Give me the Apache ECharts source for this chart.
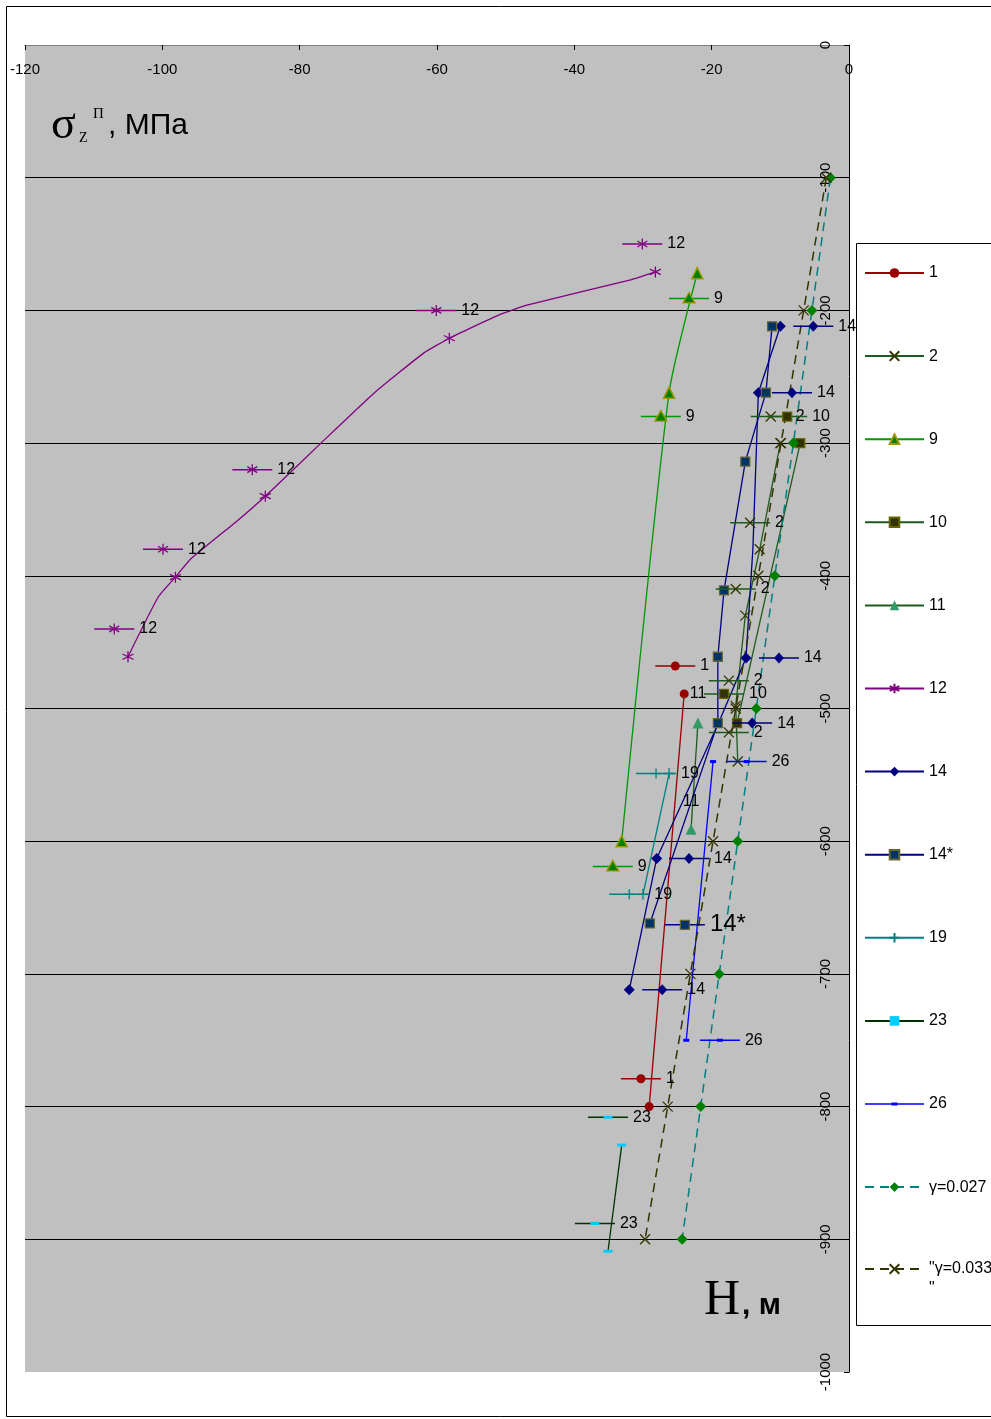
<!DOCTYPE html>
<html>
<head>
<meta charset="utf-8">
<script src="https://cdn.jsdelivr.net/npm/echarts@6/dist/echarts.min.js"></script>
<style>
html,body{margin:0;padding:0;background:#fff}
#chart{width:991px;height:1419px}
</style>
</head>
<body>
<div id="chart"></div>
<script>
// Axis ranges: stress σz (MPa) across, depth H (m) down
const stressAxis = { min: -120, max: 0, step: 20 };
const depthAxis = { min: -1000, max: 0, step: 100 };

// Measured profiles [stress, depth]
const s1 = [[-24.0, -489], [-29.1, -800]];
const s2 = [[-10.0, -300], [-13.0, -380], [-15.1, -430], [-16.5, -498], [-16.2, -540]];
const s9 = [[-22.1, -172], [-26.2, -262], [-33.1, -600]];
const s10 = [[-7.1, -300], [-16.3, -511]];
const s11 = [[-22.0, -511], [-23.0, -591]];
const s12 = [[-28.2, -171], [-31.8, -177], [-46.9, -196], [-50.8, -203], [-58.2, -221], [-61.9, -232],
             [-69.1, -262], [-76.9, -300], [-85.0, -340], [-89.2, -359], [-95.8, -387], [-98.1, -401],
             [-100.6, -416], [-105.0, -461]];
const s12Marked = [0, 4, 8, 11, 13];
const s14 = [[-10.0, -212], [-13.2, -262], [-14.0, -380], [-15.0, -462], [-19.0, -511], [-28.0, -613], [-32.0, -712]];
const s14Marked = [0, 1, 3, 5, 6];
const s14s = [[-11.2, -212], [-12.1, -262], [-15.1, -314], [-18.2, -411], [-19.1, -461], [-19.1, -511], [-29.0, -662]];
const s19 = [[-26.2, -549], [-30.0, -640]];
const s23 = [[-33.1, -829], [-35.1, -909]];
const s26 = [[-19.8, -540], [-23.7, -750]];
// Calculated lines for two unit weights
const g027 = [[-2.7, -100], [-5.4, -200], [-8.1, -300], [-10.8, -400], [-13.5, -500], [-16.2, -600], [-18.9, -700], [-21.6, -800], [-24.3, -900]];
const g033 = [[-3.3, -100], [-6.6, -200], [-9.9, -300], [-13.2, -400], [-16.5, -500], [-19.8, -600], [-23.1, -700], [-26.4, -800], [-29.7, -900]];

// Point tags: marker with a short stroke and the borehole number
const tag1 = [[-25.3, -468], [-30.3, -779]];
const tag2 = [[-11.4, -280], [-14.4, -360], [-16.5, -410], [-17.5, -479], [-17.5, -518]];
const tag9 = [[-23.3, -191], [-27.4, -280], [-34.4, -619]];
const tag10 = [[-9.0, -280], [-18.2, -489]];
const tag11 = [[-23.2, -489], [-24.2, -570]];
const tag12 = [[-30.1, -150], [-60.1, -200], [-86.9, -320], [-99.9, -380], [-107.0, -440]];
const tag14 = [[-5.2, -212], [-8.3, -262], [-10.2, -462], [-14.1, -511], [-23.3, -613], [-27.2, -712]];
const tag14s = [[-23.9, -663]];
const tag19 = [[-28.1, -549], [-32.0, -640]];
const tag23 = [[-35.1, -808], [-37.0, -888]];
const tag26 = [[-14.9, -540], [-18.8, -750]];

const SANS = 'Liberation Sans, Arial, sans-serif';
const SERIF = 'Liberation Serif, Times New Roman, serif';

const CROSS = 'path://M0,0L10,10M10,0L0,10';
const STAR = 'path://M5,0L5,10M0.7,2.5L9.3,7.5M0.7,7.5L9.3,2.5';
const PLUS = 'path://M5,0L5,10M0,5L10,5';
// legend sample for "26": thin stroke with a short dash in the middle
const LINE_DASH6 = 'path://M0,5.3h59v1.4h-59zM26.5,4.5h6v3h-6z';

function markShapes(kind, x, y, st) {
  const sw = { lineWidth: 1.3 };
  switch (kind) {
    case 'circle':
      return [{ type: 'circle', shape: { cx: x, cy: y, r: 4.5 }, style: { fill: st.fill } }];
    case 'cross':
      return [
        { type: 'line', shape: { x1: x - 5, y1: y - 5, x2: x + 5, y2: y + 5 }, style: Object.assign({ stroke: st.fill }, sw) },
        { type: 'line', shape: { x1: x + 5, y1: y - 5, x2: x - 5, y2: y + 5 }, style: Object.assign({ stroke: st.fill }, sw) }
      ];
    case 'tri':
      return [{ type: 'polygon', shape: { points: [[x, y - 6], [x + 6, y + 4.5], [x - 6, y + 4.5]] }, style: { fill: st.fill, stroke: st.edge || st.fill, lineWidth: 1.3 } }];
    case 'square':
      return [{ type: 'rect', shape: { x: x - 4.5, y: y - 4.5, width: 9, height: 9 }, style: { fill: st.fill, stroke: st.edge || st.fill, lineWidth: 1.3 } }];
    case 'star':
      return [
        { type: 'line', shape: { x1: x, y1: y - 5.5, x2: x, y2: y + 5.5 }, style: Object.assign({ stroke: st.fill }, sw) },
        { type: 'line', shape: { x1: x - 5, y1: y - 3, x2: x + 5, y2: y + 3 }, style: Object.assign({ stroke: st.fill }, sw) },
        { type: 'line', shape: { x1: x - 5, y1: y + 3, x2: x + 5, y2: y - 3 }, style: Object.assign({ stroke: st.fill }, sw) }
      ];
    case 'diamond':
      return [{ type: 'polygon', shape: { points: [[x, y - 5.5], [x + 5, y], [x, y + 5.5], [x - 5, y]] }, style: { fill: st.fill } }];
    case 'plus':
      return [
        { type: 'line', shape: { x1: x, y1: y - 5, x2: x, y2: y + 5 }, style: Object.assign({ stroke: st.fill }, sw) },
        { type: 'line', shape: { x1: x - 5, y1: y, x2: x + 5, y2: y }, style: Object.assign({ stroke: st.fill }, sw) }
      ];
    case 'dash':
      return [{ type: 'rect', shape: { x: x - st.w / 2, y: y - 1.5, width: st.w, height: 3 }, style: { fill: st.fill } }];
  }
  return [];
}

function tagSeries(points, text, st) {
  return {
    type: 'custom',
    silent: true,
    clip: false,
    z: 6,
    data: points,
    renderItem(params, api) {
      const p = api.coord([api.value(0), api.value(1)]);
      const ch = [];
      if (st.line) {
        ch.push({ type: 'line', shape: { x1: p[0] - 20, y1: p[1], x2: p[0] + 20, y2: p[1] }, style: { stroke: st.line, lineWidth: 1.5 } });
      }
      if (st.kind) ch.push(...markShapes(st.kind, p[0], p[1], st));
      ch.push({
        type: 'text',
        style: {
          text: text, x: p[0] + (st.line ? 25 : 0), y: p[1],
          verticalAlign: 'middle', align: 'left', fill: '#000',
          font: (st.size || 16) + 'px ' + SANS
        }
      });
      return { type: 'group', children: ch };
    }
  };
}

function lineSeries(name, pts, opt, marked) {
  const data = pts.map((p, i) => (marked && marked.indexOf(i) < 0) ? { value: p, symbol: 'none' } : { value: p });
  return Object.assign({
    name: name,
    type: 'line',
    data: data,
    z: 3,
    clip: false,
    animation: false,
    showAllSymbol: true
  }, opt);
}

const RED = '#990000', DKGREEN = '#1e5a1e', OLIVE = '#333300', GREEN = '#009900',
      PURPLE = '#800080', NAVY = '#000080', TEAL = '#008080', BLUE = '#0000ff';

const G033 = '"γ=0.033\n"';

const series = [
  lineSeries('1', s1, { symbol: 'circle', symbolSize: 9, itemStyle: { color: RED }, lineStyle: { color: RED, width: 1.3 } }),
  lineSeries('2', s2, { symbol: CROSS, symbolSize: 10, itemStyle: { color: OLIVE, borderColor: OLIVE, borderWidth: 1.3 }, lineStyle: { color: DKGREEN, width: 1.3 } }),
  lineSeries('9', s9, { symbol: 'triangle', symbolSize: 11, smooth: 0.2, itemStyle: { color: '#008000', borderColor: '#999900', borderWidth: 1.5 }, lineStyle: { color: GREEN, width: 1.3 } }),
  lineSeries('10', s10, { symbol: 'rect', symbolSize: 9, itemStyle: { color: OLIVE, borderColor: '#666600', borderWidth: 1.3 }, lineStyle: { color: DKGREEN, width: 1.3 } }),
  lineSeries('11', s11, { symbol: 'triangle', symbolSize: 11, itemStyle: { color: '#339966' }, lineStyle: { color: DKGREEN, width: 1.3 } }),
  lineSeries('12', s12, { symbol: STAR, symbolSize: 11, smooth: 0.15, itemStyle: { color: PURPLE, borderColor: PURPLE, borderWidth: 1.3 }, lineStyle: { color: PURPLE, width: 1.3 } }, s12Marked),
  lineSeries('14', s14, { symbol: 'diamond', symbolSize: 11, itemStyle: { color: NAVY }, lineStyle: { color: NAVY, width: 1.3 } }, s14Marked),
  lineSeries('14*', s14s, { symbol: 'rect', symbolSize: 9, itemStyle: { color: '#003366', borderColor: '#666633', borderWidth: 1.3 }, lineStyle: { color: NAVY, width: 1.3 } }),
  lineSeries('19', s19, { symbol: PLUS, symbolSize: 11, itemStyle: { color: TEAL, borderColor: TEAL, borderWidth: 1.3 }, lineStyle: { color: TEAL, width: 1.3 } }),
  lineSeries('23', s23, { symbol: 'rect', symbolSize: [9, 3], itemStyle: { color: '#00ccff' }, lineStyle: { color: '#003300', width: 1.3 } }),
  lineSeries('26', s26, { symbol: 'rect', symbolSize: [6, 3], itemStyle: { color: BLUE }, lineStyle: { color: BLUE, width: 1.3 } }),
  lineSeries('γ=0.027', g027, { symbol: 'diamond', symbolSize: 11, itemStyle: { color: '#008000' }, lineStyle: { color: TEAL, width: 1.5, type: [9, 6] } }),
  lineSeries(G033, g033, { symbol: CROSS, symbolSize: 10, itemStyle: { color: OLIVE, borderColor: OLIVE, borderWidth: 1.3 }, lineStyle: { color: OLIVE, width: 1.5, type: [9, 6] } }),

  tagSeries(tag1, '1', { line: RED, kind: 'circle', fill: RED }),
  tagSeries(tag2, '2', { line: DKGREEN, kind: 'cross', fill: OLIVE }),
  tagSeries(tag9, '9', { line: GREEN, kind: 'tri', fill: '#008000', edge: '#999900' }),
  tagSeries(tag10, '10', { line: DKGREEN, kind: 'square', fill: OLIVE, edge: '#666600' }),
  tagSeries(tag11, '11', {}),
  tagSeries(tag12, '12', { line: PURPLE, kind: 'star', fill: PURPLE }),
  tagSeries(tag14, '14', { line: NAVY, kind: 'diamond', fill: NAVY }),
  tagSeries(tag14s, '14*', { line: NAVY, kind: 'square', fill: '#003366', edge: '#666633', size: 24 }),
  tagSeries(tag19, '19', { line: TEAL, kind: 'plus', fill: TEAL }),
  tagSeries(tag23, '23', { line: '#003300', kind: 'dash', fill: '#00ccff', w: 9 }),
  tagSeries(tag26, '26', { line: BLUE, kind: 'dash', fill: BLUE, w: 6 })
];

const legendNames = ['1', '2', '9', '10', '11', '12', '14', '14*', '19', '23', '26', 'γ=0.027'];
const legendText = { fontSize: 16, color: '#000', fontFamily: SANS, lineHeight: 16 };

const chart = echarts.init(document.getElementById('chart'), null, { renderer: 'canvas' });
chart.setOption({
  animation: false,
  backgroundColor: '#ffffff',
  textStyle: { fontFamily: SANS },
  grid: {
    left: 25, top: 45, right: 142, bottom: 47,
    show: true, backgroundColor: '#c0c0c0', borderWidth: 0
  },
  xAxis: {
    type: 'value', position: 'top',
    min: stressAxis.min, max: stressAxis.max, interval: stressAxis.step,
    axisLine: { show: true, lineStyle: { color: '#808080', width: 1 } },
    axisTick: { show: true, inside: true, length: 5, lineStyle: { color: '#000' } },
    axisLabel: { inside: true, margin: 17, color: '#000', fontSize: 15, fontFamily: SANS },
    splitLine: { show: false }
  },
  yAxis: {
    type: 'value', position: 'right',
    min: depthAxis.min, max: depthAxis.max, interval: depthAxis.step,
    axisLine: { show: true, lineStyle: { color: '#000', width: 1 } },
    axisTick: { show: true, inside: true, length: 5, lineStyle: { color: '#000' } },
    axisLabel: { inside: true, rotate: 90, margin: 16, color: '#000', fontSize: 15, fontFamily: SANS, formatter: v => String(v) },
    splitLine: { show: true, showMinLine: false, lineStyle: { color: '#000', width: 1 } }
  },
  legend: [
    {
      orient: 'vertical',
      left: 864, top: 265,
      itemWidth: 59, itemHeight: 12, itemGap: 67.1,
      padding: 0,
      data: legendNames.map(n => n === '26' ? { name: n, icon: LINE_DASH6 } : { name: n }),
      textStyle: legendText,
      selectedMode: false
    },
    {
      // last entry: its name breaks onto a second line under the first
      orient: 'vertical',
      left: 864, top: 1248.5,
      itemWidth: 59, itemHeight: 12,
      padding: 0,
      data: [G033],
      formatter: name => name.split('\n').map((s, i) => '{' + (i ? 'b' : 'a') + '|' + s + '}').join('\n'),
      textStyle: Object.assign({}, legendText, {
        rich: {
          a: { fontSize: 16, fontFamily: SANS, color: '#000', lineHeight: 40 },
          b: { fontSize: 16, fontFamily: SANS, color: '#000', lineHeight: 1 }
        }
      }),
      selectedMode: false
    }
  ],
  graphic: [
    { type: 'rect', z: -1, shape: { x: 6.5, y: 6.5, width: 1000, height: 1410 }, style: { fill: 'none', stroke: '#000', lineWidth: 1 } },
    { type: 'rect', z: 1, shape: { x: 856.5, y: 243.5, width: 200, height: 1082 }, style: { fill: '#fff', stroke: '#000', lineWidth: 1 } },
    { type: 'text', z: 10, style: { text: 'σ', x: 51, y: 149, verticalAlign: 'bottom', font: '46px ' + SERIF, fill: '#000' } },
    { type: 'text', z: 10, style: { text: 'Z', x: 79, y: 145, verticalAlign: 'bottom', font: '14px ' + SERIF, fill: '#000' } },
    { type: 'text', z: 10, style: { text: 'П', x: 93, y: 122, verticalAlign: 'bottom', font: '15px ' + SERIF, fill: '#000' } },
    { type: 'text', z: 10, style: { text: ', МПа', x: 108, y: 126, verticalAlign: 'middle', font: '30px ' + SANS, fill: '#000' } },
    { type: 'text', z: 10, style: { text: 'H', x: 704, y: 1301, verticalAlign: 'middle', font: '50px ' + SERIF, fill: '#000' } },
    { type: 'text', z: 10, style: { text: ', м', x: 742, y: 1306, verticalAlign: 'middle', font: 'bold 30px ' + SANS, fill: '#000' } }
  ],
  series: series
});
</script>
</body>
</html>
